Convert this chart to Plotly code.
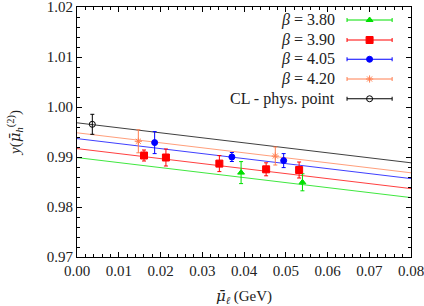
import plotly.graph_objects as go

# ---------------- data ----------------
mu_380 = [0.0393, 0.0540]
y_380 = [0.98688, 0.98494]
e_380 = [0.0022, 0.0017]

mu_390 = [0.01605, 0.0213, 0.0341, 0.0453, 0.0532]
y_390 = [0.9903, 0.9899, 0.98868, 0.98754, 0.98740]
e_390 = [0.0011, 0.0017, 0.0016, 0.0013, 0.0016]

mu_405 = [0.0186, 0.0371, 0.0495]
y_405 = [0.99288, 0.9900, 0.98928]
e_405 = [0.0022, 0.0009, 0.0014]

mu_420 = [0.01469, 0.0475]
y_420 = [0.99314, 0.9902]
e_420 = [0.0023, 0.0018]

mu_cl = [0.00367]
y_cl = [0.99654]
e_cl = [0.0020]

# fit lines: values at the two ends of the x range
fit_x = [0.0, 0.08]
fit_380 = [0.98988, 0.98188]
fit_390 = [0.99168, 0.98368]
fit_405 = [0.99368, 0.98568]
fit_420 = [0.99484, 0.98684]
fit_cl = [0.99684, 0.98884]

labels = ["<i>β</i> = 3.80", "<i>β</i> = 3.90", "<i>β</i> = 4.05", "<i>β</i> = 4.20", "CL - phys. point"]

GREEN = "#00e000"
RED = "#ff0000"
BLUE = "#0000ff"
ORANGE = "#ff7f50"
BLACK = "#000000"

FONT = "Liberation Serif"
MU = '<span style="font-family:DejaVu Serif">μ̄</span>'

series = [
    (mu_380, y_380, e_380, fit_380, GREEN, "triangle-up", 6),
    (mu_390, y_390, e_390, fit_390, RED, "square", 7),
    (mu_405, y_405, e_405, fit_405, BLUE, "circle", 6),
    (mu_420, y_420, e_420, fit_420, ORANGE, "asterisk-open", 6),
    (mu_cl, y_cl, e_cl, fit_cl, BLACK, "circle-open", 6),
]

fig = go.Figure()

# fit lines
for mx, my, me, fy, col, sym, sz in series:
    fig.add_trace(go.Scatter(x=fit_x, y=fy, mode="lines",
                             line=dict(color=col, width=1), opacity=0.75,
                             showlegend=False, hoverinfo="skip"))

# data points
for mx, my, me, fy, col, sym, sz in series:
    fig.add_trace(go.Scatter(
        x=mx, y=my, mode="markers",
        marker=dict(symbol=sym, size=sz, color=col,
                    line=dict(color=col, width=1)),
        error_y=dict(type="data", array=me, visible=True, color=col,
                     thickness=1, width=2),
        showlegend=False))

# manual legend on hidden overlay axes
leg_y = [0.948, 0.868, 0.791, 0.712, 0.633]
for (mx, my, me, fy, col, sym, sz), ly, lab in zip(series, leg_y, labels):
    fig.add_trace(go.Scatter(
        x=[0.876], y=[ly], xaxis="x2", yaxis="y2", mode="markers",
        marker=dict(symbol=sym, size=sz, color=col,
                    line=dict(color=col, width=1)),
        error_x=dict(type="constant", value=0.0675, visible=True, color=col,
                     thickness=1, width=2),
        showlegend=False, hoverinfo="skip"))
    fig.add_annotation(x=0.778, y=ly, xref="paper", yref="paper",
                       text=lab, showarrow=False, xanchor="right",
                       yanchor="middle",
                       font=dict(family=FONT, size=16, color="#222"))

axis_common = dict(
    showline=True, linecolor="black", linewidth=1, mirror="ticks",
    ticks="inside", ticklen=5, tickcolor="black", tickwidth=1,
    showgrid=False, zeroline=False, automargin=False,
    ticklabeloverflow="allow",
    tickfont=dict(family=FONT, size=15, color="#222"),
)

fig.update_layout(
    width=424, height=306,
    margin=dict(l=77, r=13, t=7, b=49),
    paper_bgcolor="white", plot_bgcolor="white",
    showlegend=False,
    xaxis=dict(range=[0, 0.08], dtick=0.01, tickformat=".2f",
               minor=dict(ticks="inside", ticklen=3, dtick=0.002,
                          tickcolor="black", showgrid=False),
               title=dict(text="<i>" + MU + "</i><sub><i>ℓ</i></sub> (GeV)",
                          font=dict(family=FONT, size=15, color="#222"),
                          standoff=13),
               **axis_common),
    yaxis=dict(range=[0.97, 1.02], dtick=0.01, tickformat=".2f",
               minor=dict(ticks="inside", ticklen=3, dtick=0.002,
                          tickcolor="black", showgrid=False),
               title=dict(text="<i>y</i>(<i>" + MU + "</i><sub><i>h</i></sub><sup>(2)</sup>)",
                          font=dict(family=FONT, size=15, color="#222"),
                          standoff=22),
               **axis_common),
    xaxis2=dict(overlaying="x", range=[0, 1], visible=False),
    yaxis2=dict(overlaying="y", range=[0, 1], visible=False),
)

fig.write_html("out.html", config={"displayModeBar": False},
               post_script="document.body.style.margin='0';document.body.style.padding='0';")
